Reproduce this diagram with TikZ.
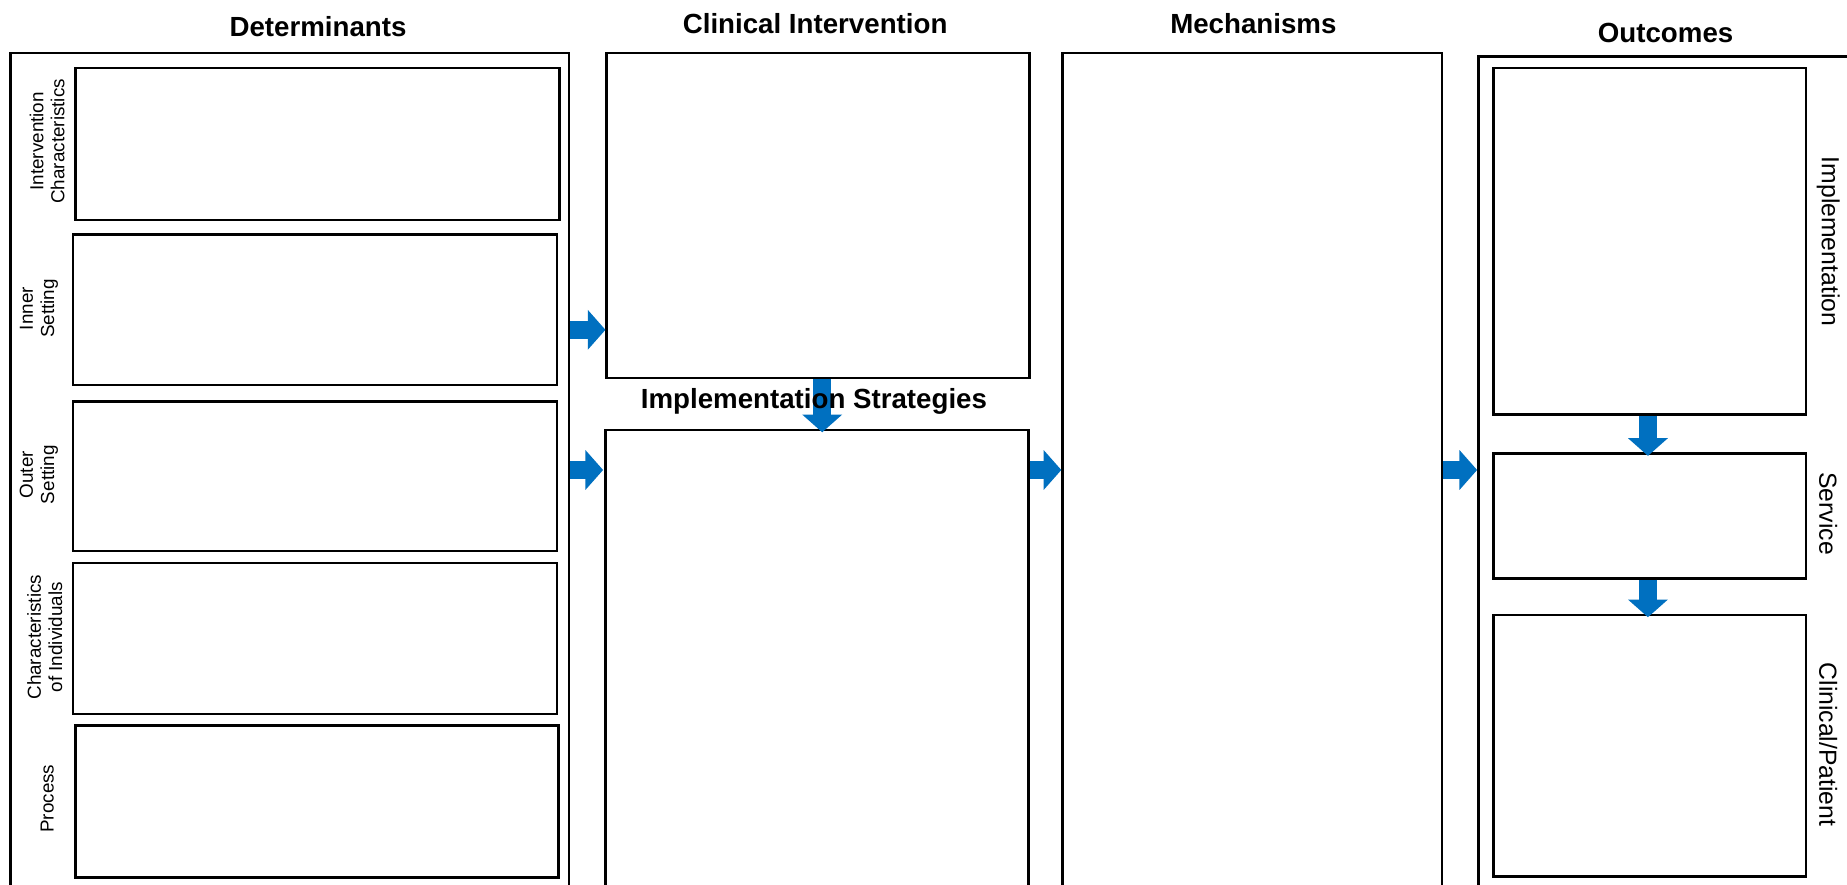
\documentclass[tikz,border=0pt]{standalone}
\usepackage{fontspec}
\setmainfont{Liberation Sans}
\usetikzlibrary{arrows.meta}
\definecolor{arrowblue}{HTML}{0070C0}
\begin{document}
\begin{tikzpicture}[x=1pt,y=-1pt,
  box/.style={draw=black, line width=2pt, fill=white, anchor=north west, inner sep=0pt},
  heading/.style={font=\fontsize{23.5}{27}\selectfont\bfseries, inner sep=0pt},
  sidelabel/.style={font=\fontsize{16}{18}\selectfont, align=center, rotate=90, inner sep=0pt},
  outlabel/.style={font=\fontsize{21}{24}\selectfont, rotate=-90, inner sep=0pt},
  flow/.style={draw=arrowblue, line width=15pt, -{Triangle[length=15pt,width=33pt]}}]
\useasboundingbox (0,0) rectangle (1568,751);
\clip (0,0) rectangle (1568,751);
\fill[white] (0,0) rectangle (1568,751);

% column frames
\node[box, minimum width=474pt, minimum height=756pt] (det) at (8,44) {};
\node[box, minimum width=359pt, minimum height=276pt] (ci) at (514,44) {};
\node[box, minimum width=359pt, minimum height=436pt] (is) at (513,364) {};
\node[box, minimum width=322pt, minimum height=756pt] (mech) at (901,44) {};
\node[box, minimum width=346pt, minimum height=753pt] (outc) at (1254,47) {};

% determinant domains
\node[box, minimum width=411pt, minimum height=129pt] (ic) at (63,57) {};
\node[box, minimum width=411pt, minimum height=128pt] (inner) at (61,198) {};
\node[box, minimum width=411pt, minimum height=127pt] (outer) at (61,340) {};
\node[box, minimum width=411pt, minimum height=128pt] (chars) at (61,477) {};
\node[box, minimum width=410pt, minimum height=129pt] (proc) at (63,615) {};

% outcome levels
\node[box, minimum width=265pt, minimum height=294pt] (impl) at (1267,57) {};
\node[box, minimum width=265pt, minimum height=106pt] (serv) at (1267,384) {};
\node[box, minimum width=265pt, minimum height=222pt] (clin) at (1267,521) {};

% flow arrows
\coordinate (rowA) at (0,280);
\coordinate (rowB) at (0,399);
\coordinate (colA) at (698,0);
\coordinate (colB) at (1399,0);
\draw[flow] (det.east |- rowA) -- (ci.west |- rowA);
\draw[flow] (det.east |- rowB) -- ([xshift=-1pt]is.west |- rowB);
\draw[flow] (is.east |- rowB) -- (mech.west |- rowB);
\draw[flow] (mech.east |- rowB) -- (outc.west |- rowB);
\draw[flow] (ci.south -| colA) -- ([yshift=-3pt]is.north -| colA);
\draw[flow] (impl.south -| colB) -- ([yshift=-3pt]serv.north -| colB);
\draw[flow] (serv.south -| colB) -- ([yshift=-3pt]clin.north -| colB);

% headings
\node[heading] (hdet) at (270,23) {Determinants};
\node[heading] (hci) at (692,20) {Clinical Intervention};
\node[heading] (his) at (691,341) {Implementation Strategies};
\node[heading] (hmech) at (1064,20) {Mechanisms};
\node[heading] (hout) at (1414,28) {Outcomes};

% domain labels
\node[sidelabel] (lic) at (40,120) {Intervention\\Characteristics};
\node[sidelabel] (linner) at (33,262) {Inner\\Setting};
\node[sidelabel] (louter) at (33,403) {Outer\\Setting};
\node[sidelabel] (lchars) at (38,541) {Characteristics\\of Individuals};
\node[sidelabel] (lproc) at (40,678) {Process};

% outcome labels
\node[outlabel] (limpl) at (1552,205) {Implementation};
\node[outlabel] (lserv) at (1552,436) {Service};
\node[outlabel] (lclin) at (1552,632) {Clinical/Patient};
\end{tikzpicture}
\end{document}
